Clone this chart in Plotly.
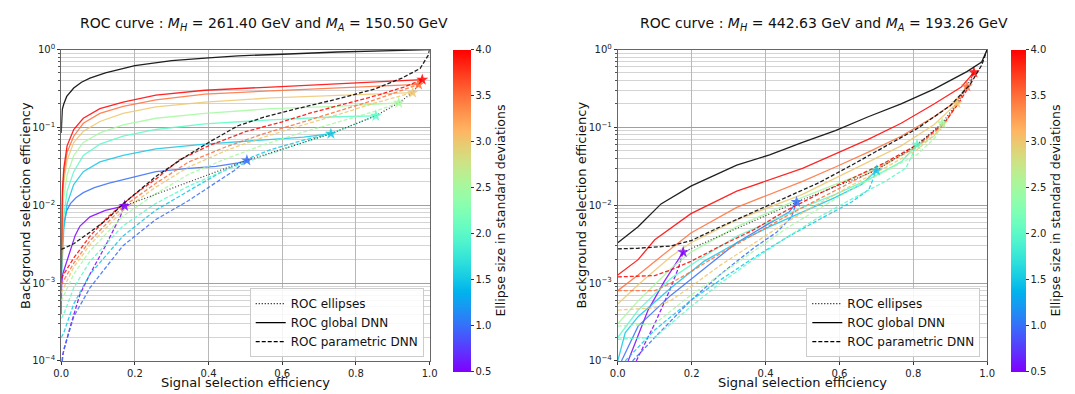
import math
import plotly.graph_objects as go

# ---------------- data ----------------
sigmas = [0.5, 1.0, 1.5, 2.0, 2.5, 3.0, 3.5, 4.0]

# Left panel (M_H = 261.40, M_A = 150.50)
left_star_x = [0.172, 0.504, 0.732, 0.854, 0.916, 0.954, 0.970, 0.980]
left_star_y = [0.0098, 0.0377, 0.083, 0.141, 0.207, 0.28, 0.356, 0.41]

left_global_x = [0, 0.001, 0.003, 0.007, 0.015, 0.034, 0.055, 0.078, 0.12, 0.2, 0.3, 0.4, 0.48, 0.6, 0.75, 0.9, 1.0]
left_global_y = [0.085, 0.13, 0.17, 0.2, 0.25, 0.32, 0.38, 0.43, 0.5, 0.62, 0.72, 0.78, 0.83, 0.87, 0.93, 0.97, 1.0]
left_param_x = [0, 0.034, 0.078, 0.123, 0.168, 0.257, 0.33, 0.40, 0.48, 0.55, 0.622, 0.747, 0.85, 0.925, 0.974, 0.996, 1.0]
left_param_y = [0.0027, 0.0032, 0.0045, 0.0065, 0.0104, 0.0234, 0.04, 0.064, 0.105, 0.135, 0.166, 0.23, 0.31, 0.43, 0.57, 0.84, 1.0]

left_solid_x = [
    [0, 0.001, 0.004, 0.012, 0.025, 0.038, 0.051, 0.078, 0.12, 0.172],
    [0, 0.002, 0.007, 0.015, 0.025, 0.04, 0.06, 0.09, 0.13, 0.17, 0.257, 0.346, 0.42, 0.48, 0.504],
    [0, 0.003, 0.007, 0.016, 0.034, 0.06, 0.105, 0.168, 0.257, 0.39, 0.569, 0.658, 0.732],
    [0, 0.003, 0.007, 0.016, 0.034, 0.06, 0.105, 0.168, 0.257, 0.39, 0.569, 0.747, 0.854],
    [0, 0.003, 0.007, 0.016, 0.034, 0.06, 0.105, 0.168, 0.257, 0.39, 0.569, 0.747, 0.916],
    [0, 0.003, 0.007, 0.016, 0.034, 0.06, 0.105, 0.168, 0.257, 0.39, 0.569, 0.747, 0.954],
    [0, 0.003, 0.007, 0.016, 0.034, 0.06, 0.105, 0.168, 0.257, 0.39, 0.569, 0.747, 0.970],
    [0, 0.003, 0.007, 0.016, 0.034, 0.06, 0.105, 0.168, 0.257, 0.39, 0.569, 0.747, 0.980],
]
left_solid_y = [
    [0.0004, 0.0009, 0.0013, 0.0017, 0.0025, 0.0041, 0.0054, 0.0071, 0.0086, 0.0098],
    [0.0015, 0.003, 0.0058, 0.0085, 0.0105, 0.0125, 0.0145, 0.0168, 0.0192, 0.0214, 0.027, 0.0297, 0.0315, 0.035, 0.0377],
    [0.001, 0.0022, 0.0049, 0.0104, 0.0184, 0.027, 0.036, 0.0436, 0.053, 0.061, 0.070, 0.075, 0.083],
    [0.001, 0.0035, 0.0071, 0.0152, 0.027, 0.0436, 0.061, 0.077, 0.094, 0.111, 0.125, 0.137, 0.141],
    [0.001, 0.006, 0.0126, 0.0245, 0.0436, 0.064, 0.085, 0.108, 0.131, 0.151, 0.174, 0.186, 0.207],
    [0.001, 0.01, 0.02, 0.038, 0.064, 0.089, 0.119, 0.151, 0.183, 0.211, 0.239, 0.255, 0.28],
    [0.001, 0.012, 0.0245, 0.048, 0.077, 0.113, 0.151, 0.186, 0.225, 0.268, 0.295, 0.318, 0.356],
    [0.001, 0.015, 0.0297, 0.058, 0.094, 0.131, 0.174, 0.211, 0.26, 0.30, 0.33, 0.363, 0.41],
]
left_dashed_x = [
    [0.002, 0.004, 0.025, 0.051, 0.078, 0.12, 0.16, 0.172],
    [0.003, 0.007, 0.034, 0.078, 0.167, 0.256, 0.346, 0.427, 0.47, 0.504],
    [0, 0.007, 0.034, 0.078, 0.167, 0.256, 0.346, 0.43, 0.52, 0.57, 0.66, 0.732],
    [0, 0.007, 0.034, 0.078, 0.167, 0.256, 0.346, 0.45, 0.55, 0.65, 0.75, 0.854],
    [0, 0.034, 0.078, 0.167, 0.256, 0.346, 0.45, 0.55, 0.65, 0.75, 0.85, 0.916],
    [0, 0.034, 0.078, 0.167, 0.256, 0.346, 0.45, 0.55, 0.65, 0.75, 0.85, 0.954],
    [0, 0.034, 0.078, 0.167, 0.256, 0.346, 0.45, 0.55, 0.65, 0.75, 0.85, 0.970],
    [0, 0.034, 0.078, 0.123, 0.167, 0.212, 0.256, 0.32, 0.40, 0.50, 0.60, 0.68, 0.77, 0.86, 0.93, 0.980],
]
left_dashed_y = [
    [0.0001, 0.00012, 0.00028, 0.00072, 0.0013, 0.003, 0.0071, 0.0098],
    [0.0001, 0.00014, 0.00037, 0.00087, 0.003, 0.0065, 0.0115, 0.0203, 0.028, 0.0377],
    [0.0002, 0.00023, 0.00054, 0.0013, 0.004, 0.0086, 0.0153, 0.026, 0.042, 0.052, 0.069, 0.083],
    [0.00035, 0.0004, 0.00087, 0.0019, 0.0054, 0.0105, 0.0176, 0.029, 0.043, 0.062, 0.09, 0.141],
    [0.00059, 0.0013, 0.0026, 0.0072, 0.014, 0.025, 0.04, 0.06, 0.085, 0.117, 0.16, 0.207],
    [0.00075, 0.0016, 0.0031, 0.0085, 0.017, 0.031, 0.051, 0.075, 0.105, 0.145, 0.205, 0.28],
    [0.00095, 0.0018, 0.0035, 0.0095, 0.019, 0.036, 0.057, 0.083, 0.115, 0.16, 0.225, 0.356],
    [0.00115, 0.0021, 0.004, 0.0068, 0.0104, 0.0153, 0.0215, 0.038, 0.058, 0.088, 0.118, 0.155, 0.2, 0.26, 0.33, 0.41],
]

# Right panel (M_H = 442.63, M_A = 193.26)
right_star_x = [0.177, 0.484, 0.700, 0.810, 0.878, 0.918, 0.945, 0.964]
right_star_y = [0.0025, 0.011, 0.028, 0.06, 0.113, 0.205, 0.335, 0.51]

right_global_x = [0, 0.055, 0.117, 0.198, 0.322, 0.411, 0.5, 0.589, 0.678, 0.767, 0.856, 0.945, 0.985, 1.0]
right_global_y = [0.0033, 0.0053, 0.0104, 0.0176, 0.0327, 0.0444, 0.064, 0.091, 0.137, 0.2, 0.31, 0.52, 0.69, 1.0]
right_param_x = [0, 0.055, 0.144, 0.198, 0.278, 0.367, 0.455, 0.544, 0.633, 0.722, 0.811, 0.9, 0.954, 0.985, 1.0]
right_param_y = [0.00275, 0.0028, 0.003, 0.0035, 0.0053, 0.0082, 0.0126, 0.0194, 0.0327, 0.057, 0.097, 0.19, 0.356, 0.63, 1.0]

right_solid_x = [
    [0.028, 0.082, 0.126, 0.162, 0.177],
    [0.01, 0.055, 0.144, 0.233, 0.322, 0.411, 0.464, 0.484],
    [0, 0.02, 0.055, 0.144, 0.233, 0.322, 0.411, 0.5, 0.589, 0.66, 0.700],
    [0, 0.055, 0.144, 0.233, 0.322, 0.411, 0.5, 0.589, 0.678, 0.767, 0.810],
    [0, 0.055, 0.144, 0.198, 0.322, 0.411, 0.5, 0.589, 0.678, 0.767, 0.811, 0.856, 0.878],
    [0, 0.055, 0.144, 0.198, 0.322, 0.411, 0.5, 0.589, 0.678, 0.767, 0.856, 0.918],
    [0, 0.055, 0.117, 0.198, 0.322, 0.411, 0.5, 0.589, 0.678, 0.767, 0.856, 0.918, 0.945],
    [0, 0.055, 0.1, 0.198, 0.322, 0.411, 0.5, 0.589, 0.678, 0.767, 0.856, 0.93, 0.964],
]
right_solid_y = [
    [0.0001, 0.00045, 0.00105, 0.0019, 0.0025],
    [0.0001, 0.00028, 0.0007, 0.00154, 0.0033, 0.0059, 0.0082, 0.011],
    [0.0001, 0.00023, 0.00037, 0.00087, 0.0019, 0.0033, 0.0053, 0.0082, 0.0126, 0.0185, 0.028],
    [0.0002, 0.00045, 0.00115, 0.0022, 0.004, 0.0061, 0.0094, 0.0138, 0.0213, 0.036, 0.06],
    [0.0003, 0.00059, 0.00154, 0.0025, 0.0053, 0.0082, 0.0126, 0.0185, 0.027, 0.0436, 0.058, 0.077, 0.113],
    [0.00054, 0.00095, 0.0022, 0.0033, 0.0065, 0.0094, 0.0138, 0.0223, 0.036, 0.058, 0.108, 0.205],
    [0.0008, 0.00127, 0.0022, 0.0044, 0.0094, 0.0138, 0.0203, 0.031, 0.048, 0.077, 0.137, 0.22, 0.335],
    [0.00127, 0.002, 0.0036, 0.0078, 0.0152, 0.0213, 0.0297, 0.0457, 0.07, 0.113, 0.2, 0.33, 0.51],
]
right_dashed_x = [
    [0.05, 0.1, 0.14, 0.165, 0.177],
    [0.04, 0.1, 0.198, 0.278, 0.367, 0.43, 0.47, 0.484],
    [0.02, 0.1, 0.198, 0.278, 0.367, 0.455, 0.544, 0.633, 0.68, 0.700],
    [0, 0.1, 0.198, 0.278, 0.367, 0.455, 0.544, 0.633, 0.722, 0.78, 0.810],
    [0, 0.1, 0.198, 0.278, 0.367, 0.455, 0.544, 0.633, 0.722, 0.811, 0.86, 0.878],
    [0, 0.1, 0.144, 0.198, 0.278, 0.367, 0.455, 0.544, 0.633, 0.722, 0.811, 0.88, 0.918],
    [0, 0.1, 0.144, 0.198, 0.278, 0.367, 0.455, 0.544, 0.633, 0.722, 0.811, 0.883, 0.92, 0.945],
    [0, 0.1, 0.144, 0.198, 0.278, 0.367, 0.455, 0.544, 0.633, 0.722, 0.811, 0.883, 0.927, 0.954, 0.964],
]
right_dashed_y = [
    [0.0001, 0.0003, 0.0008, 0.0016, 0.0025],
    [0.0001, 0.0002, 0.0006, 0.0013, 0.0028, 0.0045, 0.007, 0.011],
    [0.0001, 0.00025, 0.0006, 0.0011, 0.0021, 0.0038, 0.0065, 0.011, 0.016, 0.028],
    [0.00019, 0.0002, 0.0005, 0.001, 0.002, 0.0038, 0.007, 0.012, 0.02, 0.03, 0.06],
    [0.00028, 0.0003, 0.0007, 0.0013, 0.0026, 0.005, 0.009, 0.016, 0.027, 0.045, 0.075, 0.113],
    [0.00045, 0.00048, 0.0006, 0.0009, 0.0017, 0.0032, 0.006, 0.0105, 0.018, 0.03, 0.052, 0.1, 0.205],
    [0.0008, 0.0008, 0.001, 0.0014, 0.0024, 0.0042, 0.0072, 0.012, 0.02, 0.033, 0.057, 0.11, 0.2, 0.335],
    [0.0012, 0.00125, 0.00148, 0.0019, 0.003, 0.0048, 0.0085, 0.014, 0.022, 0.035, 0.06, 0.113, 0.22, 0.356, 0.51],
]

titles = ["ROC curve : <i>M</i><sub><i>H</i></sub> = 261.40 GeV and <i>M</i><sub><i>A</i></sub> = 150.50 GeV",
          "ROC curve : <i>M</i><sub><i>H</i></sub> = 442.63 GeV and <i>M</i><sub><i>A</i></sub> = 193.26 GeV"]
x_ticks = [0.0, 0.2, 0.4, 0.6, 0.8, 1.0]
y_ticks = [1e-4, 1e-3, 1e-2, 1e-1, 1e0]
y_ticktext = ["10<sup>\u22124</sup>", "10<sup>\u22123</sup>", "10<sup>\u22122</sup>", "10<sup>\u22121</sup>", "10<sup>0</sup>"]
cbar_ticks = [0.5, 1.0, 1.5, 2.0, 2.5, 3.0, 3.5, 4.0]

# ---------------- helpers ----------------
SMIN, SMAX = 0.5, 4.0


def rainbow(t):
    r = min(1.0, max(0.0, abs(2 * t - 0.5)))
    g = min(1.0, max(0.0, math.sin(math.pi * t)))
    b = min(1.0, max(0.0, math.cos(math.pi * t / 2)))
    return (int(round(r * 255)), int(round(g * 255)), int(round(b * 255)))


def sig_color(s, a=1.0):
    r, g, b = rainbow((s - SMIN) / (SMAX - SMIN))
    return f"rgba({r},{g},{b},{a})"


colorscale = [[i / 20, "rgb(%d,%d,%d)" % rainbow(i / 20)] for i in range(21)]

W, H = 1075, 394
FONT = "DejaVu Sans"

fig = go.Figure()

panels = [
    dict(xa="x", ya="y", star_x=left_star_x, star_y=left_star_y,
         gx=left_global_x, gy=left_global_y, px_=left_param_x, py_=left_param_y,
         sx=left_solid_x, sy=left_solid_y, dx=left_dashed_x, dy=left_dashed_y, legend="legend"),
    dict(xa="x2", ya="y2", star_x=right_star_x, star_y=right_star_y,
         gx=right_global_x, gy=right_global_y, px_=right_param_x, py_=right_param_y,
         sx=right_solid_x, sy=right_solid_y, dx=right_dashed_x, dy=right_dashed_y, legend="legend2"),
]

LW = 1.3
for p in panels:
    for i, s in enumerate(sigmas):
        c = sig_color(s, 0.85)
        fig.add_trace(go.Scatter(x=p["sx"][i], y=p["sy"][i], xaxis=p["xa"], yaxis=p["ya"], mode="lines",
                                 line=dict(color=c, width=LW), showlegend=False, hoverinfo="skip"))
        fig.add_trace(go.Scatter(x=p["dx"][i], y=p["dy"][i], xaxis=p["xa"], yaxis=p["ya"], mode="lines",
                                 line=dict(color=c, width=LW, dash="4px,2px"), showlegend=False, hoverinfo="skip"))
    # ellipse ROC (dotted) and stars
    fig.add_trace(go.Scatter(x=p["star_x"], y=p["star_y"], xaxis=p["xa"], yaxis=p["ya"], mode="lines",
                             line=dict(color="rgba(40,40,40,0.9)", width=1.2, dash="1px,2px"),
                             showlegend=False, hoverinfo="skip"))
    fig.add_trace(go.Scatter(x=p["star_x"], y=p["star_y"], xaxis=p["xa"], yaxis=p["ya"], mode="markers",
                             marker=dict(symbol="star", size=9, color=[sig_color(s, 0.85) for s in sigmas],
                                         line=dict(width=0)),
                             showlegend=False, hoverinfo="skip"))
    fig.add_trace(go.Scatter(x=p["gx"], y=p["gy"], xaxis=p["xa"], yaxis=p["ya"], mode="lines",
                             line=dict(color="rgba(20,20,20,0.95)", width=LW), showlegend=False, hoverinfo="skip"))
    fig.add_trace(go.Scatter(x=p["px_"], y=p["py_"], xaxis=p["xa"], yaxis=p["ya"], mode="lines",
                             line=dict(color="rgba(20,20,20,0.95)", width=LW, dash="4px,2px"),
                             showlegend=False, hoverinfo="skip"))
    # legend entries
    for name, dash in [("ROC ellipses", "1px,2px"), ("ROC global DNN", "solid"), ("ROC parametric DNN", "4px,2px")]:
        fig.add_trace(go.Scatter(x=[None], y=[None], xaxis=p["xa"], yaxis=p["ya"], mode="lines", name=name,
                                 line=dict(color="black", width=1.3, dash=dash), legend=p["legend"]))

# colorbars
for xa, ya, cbx, th in [("x", "y", 452, 18), ("x2", "y2", 1018, 15)]:
    fig.add_trace(go.Scatter(x=[None], y=[None], xaxis=xa, yaxis=ya, mode="markers", showlegend=False,
                             marker=dict(color=[SMIN], colorscale=colorscale, cmin=SMIN, cmax=SMAX, showscale=True,
                                         colorbar=dict(x=cbx / W, xanchor="left", y=1 - 44 / H, yanchor="top",
                                                       len=322, lenmode="pixels", thickness=th,
                                                       thicknessmode="pixels", xpad=0, ypad=0,
                                                       outlinewidth=0, ticks="outside", ticklen=3,
                                                       tickcolor="#333", tickvals=cbar_ticks,
                                                       ticktext=["%.1f" % v for v in cbar_ticks],
                                                       tickfont=dict(size=10, color="#222", family=FONT),
                                                       title=dict(text="Ellipse size in standard deviations",
                                                                  side="right",
                                                                  font=dict(size=12.5, color="#111", family=FONT))))))

minor_vals = [m * 10 ** e for e in range(-4, 0) for m in range(2, 10)]

axis_common_x = dict(range=[0, 1], tickvals=x_ticks, ticktext=["%.1f" % v for v in x_ticks],
                     showgrid=True, gridcolor="#b8b8b8", gridwidth=1, zeroline=False,
                     showline=True, linecolor="#666", linewidth=1, mirror=True,
                     ticks="outside", ticklen=3, tickcolor="#333",
                     tickfont=dict(size=10, color="#222", family=FONT))
axis_common_y = dict(type="log", range=[-4, 0], tickvals=y_ticks, ticktext=y_ticktext,
                     showgrid=True, gridcolor="#a0a0a0", gridwidth=1, zeroline=False,
                     showline=True, linecolor="#666", linewidth=1, mirror=True,
                     ticks="outside", ticklen=3, tickcolor="#333",
                     tickfont=dict(size=10, color="#222", family=FONT),
                     minor=dict(tickmode="array", tickvals=minor_vals, showgrid=True,
                                gridcolor="#d4d4d4", gridwidth=1, ticks="outside", ticklen=2, tickcolor="#555"))

fig.update_layout(
    width=W, height=H, margin=dict(l=0, r=0, t=0, b=0),
    paper_bgcolor="white", plot_bgcolor="white",
    font=dict(family=FONT, color="#111"),
    xaxis=dict(domain=[54 / W, 428 / W], anchor="y", **axis_common_x),
    yaxis=dict(domain=[1 - 366 / H, 1 - 44 / H], anchor="x", **axis_common_y),
    xaxis2=dict(domain=[619 / W, 994 / W], anchor="y2", **axis_common_x),
    yaxis2=dict(domain=[1 - 366 / H, 1 - 44 / H], anchor="x2", **axis_common_y),
    legend=dict(x=422 / W, xanchor="right", y=1 - 362 / H, yanchor="bottom",
                bgcolor="rgba(255,255,255,0.85)", bordercolor="#cccccc", borderwidth=1,
                font=dict(size=12, family=FONT, color="#111"), tracegroupgap=0),
    legend2=dict(x=987 / W, xanchor="right", y=1 - 362 / H, yanchor="bottom",
                 bgcolor="rgba(255,255,255,0.85)", bordercolor="#cccccc", borderwidth=1,
                 font=dict(size=12, family=FONT, color="#111"), tracegroupgap=0),
    showlegend=True,
)

annotations = [
    dict(text=titles[0], x=260 / W, y=1 - 18 / H, xref="paper", yref="paper", xanchor="center", yanchor="middle",
         showarrow=False, font=dict(size=14, family=FONT, color="#111")),
    dict(text=titles[1], x=828 / W, y=1 - 18 / H, xref="paper", yref="paper", xanchor="center", yanchor="middle",
         showarrow=False, font=dict(size=14, family=FONT, color="#111")),
    dict(text="Background selection efficiency", x=17 / W, y=1 - 205 / H, xref="paper", yref="paper",
         xanchor="center", yanchor="middle", textangle=-90, showarrow=False,
         font=dict(size=13, family=FONT, color="#111")),
    dict(text="Background selection efficiency", x=582 / W, y=1 - 205 / H, xref="paper", yref="paper",
         xanchor="center", yanchor="middle", textangle=-90, showarrow=False,
         font=dict(size=13, family=FONT, color="#111")),
    dict(text="Signal selection efficiency", x=241 / W, y=1 - 379 / H, xref="paper", yref="paper",
         xanchor="center", yanchor="top", showarrow=False, font=dict(size=13, family=FONT, color="#111")),
    dict(text="Signal selection efficiency", x=806 / W, y=1 - 379 / H, xref="paper", yref="paper",
         xanchor="center", yanchor="top", showarrow=False, font=dict(size=13, family=FONT, color="#111")),
]
fig.update_layout(annotations=annotations)

fig.write_html("out.html")
